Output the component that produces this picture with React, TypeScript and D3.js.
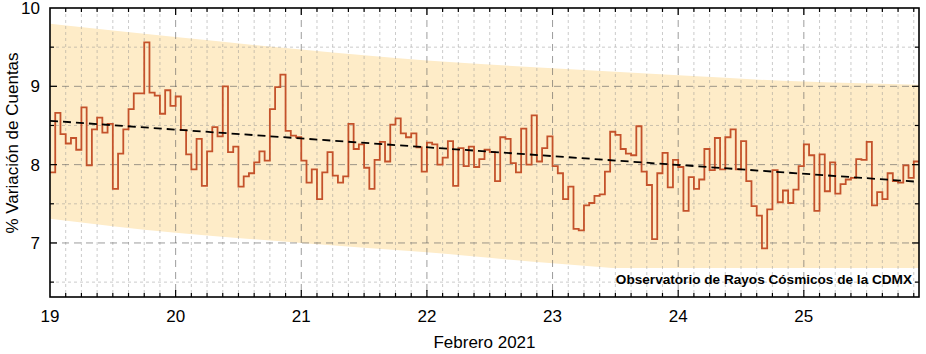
import React, { useRef, useEffect } from 'react';
import * as d3 from 'd3';

// hourly values, one array per day (Feb 2021)
const day19 = [7.90, 8.66, 8.39, 8.27, 8.34, 8.19, 8.73, 7.99, 8.45, 8.60, 8.41, 8.52, 7.69, 8.14, 8.45, 8.71, 8.91, 8.91, 9.56, 8.92, 8.88, 8.65, 8.95, 8.75];
const day20 = [8.87, 8.44, 8.13, 7.94, 8.33, 7.73, 8.17, 8.48, 8.36, 9.00, 8.16, 8.23, 7.72, 7.85, 7.89, 8.03, 8.17, 8.05, 8.71, 8.99, 9.15, 8.43, 8.37, 8.35];
const day21 = [8.05, 7.77, 7.94, 7.56, 7.90, 8.16, 7.86, 7.77, 7.85, 8.52, 8.20, 8.26, 7.96, 7.69, 8.06, 8.29, 8.04, 8.51, 8.59, 8.40, 8.35, 8.40, 8.22, 7.91];
const day22 = [8.28, 8.26, 8.00, 8.09, 8.30, 7.73, 8.21, 7.98, 8.23, 7.97, 8.07, 8.19, 8.16, 7.79, 8.35, 8.33, 8.02, 7.90, 8.46, 8.00, 8.63, 8.04, 8.21, 8.36];
const day23 = [7.98, 7.89, 7.56, 7.72, 7.18, 7.16, 7.48, 7.51, 7.60, 7.62, 7.91, 8.42, 8.38, 8.20, 8.14, 8.12, 8.49, 7.91, 7.74, 7.05, 7.89, 8.15, 7.71, 8.06];
const day24 = [7.97, 7.41, 7.84, 7.69, 7.81, 8.20, 7.93, 8.34, 7.94, 8.35, 8.45, 7.94, 8.30, 7.79, 7.47, 7.35, 6.93, 7.43, 7.93, 7.52, 7.67, 7.51, 7.68, 7.98];
const day25 = [8.26, 8.12, 7.41, 8.13, 7.66, 8.03, 7.63, 7.75, 7.81, 7.83, 8.07, 8.06, 8.29, 7.48, 7.65, 7.56, 7.89, 7.79, 7.77, 7.99, 7.83, 8.04];

// shaded band edges, read once per day
const bandDays = [19, 20, 21, 22, 23, 24, 25, 25 + 22 / 24];
const bandUpper = [9.80, 9.63, 9.47, 9.33, 9.23, 9.14, 9.06, 9.02];
const bandLower = [7.31, 7.13, 7.00, 6.88, 6.74, 6.62, 6.52, 6.45];

// linear trend
const trendDays = [19, 25 + 22 / 24];
const trendValues = [8.56, 7.78];

const dayTicks = [19, 20, 21, 22, 23, 24, 25];
const yTicks = [7, 8, 9, 10];
const yMinorTicks = [6.5, 7.5, 8.5, 9.5];

const FONT = 'Liberation Sans, Arial, sans-serif';

function Chart() {
  const svgRef = useRef(null);

  useEffect(() => {
    const svg = d3.select(svgRef.current);
    svg.selectAll('*').remove();

    const width = 926;
    const height = 354;
    const margin = { top: 8, right: 7, bottom: 57, left: 50 };
    const x0 = margin.left, x1 = width - margin.right;
    const y0 = margin.top, y1 = height - margin.bottom;

    const values = [...day19, ...day20, ...day21, ...day22, ...day23, ...day24, ...day25];
    const points = values.map((v, i) => ({ t: 19 + i / 24, v }));
    points.push({ t: 19 + values.length / 24, v: values[values.length - 1] });

    const xScale = d3.scaleLinear().domain([19, 19 + values.length / 24]).range([x0, x1]);
    const yScale = d3.scaleLinear().domain([6.31, 10]).range([y1, y0]);

    const xMinor = d3.range(19, 19 + values.length / 24 + 1e-6, 1 / 8).filter(t => Math.abs(t - Math.round(t)) > 1e-6);

    svg.append('defs').append('clipPath').attr('id', 'plotclip')
      .append('rect').attr('x', x0).attr('y', y0).attr('width', x1 - x0).attr('height', y1 - y0);

    const plot = svg.append('g').attr('clip-path', 'url(#plotclip)');

    // band
    const band = d3.area()
      .x((d, i) => xScale(bandDays[i]))
      .y0((d, i) => yScale(bandLower[i]))
      .y1((d, i) => yScale(bandUpper[i]))
      .curve(d3.curveMonotoneX);
    plot.append('path').datum(bandDays).attr('fill', '#feecc8').attr('d', band);

    // label box
    plot.append('rect')
      .attr('x', 610).attr('y', 268).attr('width', x1 - 610).attr('height', 22)
      .attr('fill', '#fff');

    // minor grid
    plot.selectAll('.xminor').data(xMinor).enter().append('line')
      .attr('x1', d => xScale(d)).attr('x2', d => xScale(d))
      .attr('y1', y0).attr('y2', y1)
      .attr('stroke', 'rgba(140,140,140,0.45)').attr('stroke-width', 1).attr('stroke-dasharray', '3,3');
    plot.selectAll('.yminor').data(yMinorTicks).enter().append('line')
      .attr('x1', x0).attr('x2', x1)
      .attr('y1', d => yScale(d)).attr('y2', d => yScale(d))
      .attr('stroke', 'rgba(140,140,140,0.45)').attr('stroke-width', 1).attr('stroke-dasharray', '3,3');

    // major grid
    plot.selectAll('.xmajor').data(dayTicks.slice(1)).enter().append('line')
      .attr('x1', d => xScale(d)).attr('x2', d => xScale(d))
      .attr('y1', y0).attr('y2', y1)
      .attr('stroke', 'rgba(90,90,90,0.6)').attr('stroke-width', 1).attr('stroke-dasharray', '7,5');
    plot.selectAll('.ymajor').data(yTicks.slice(0, 3)).enter().append('line')
      .attr('x1', x0).attr('x2', x1)
      .attr('y1', d => yScale(d)).attr('y2', d => yScale(d))
      .attr('stroke', 'rgba(90,90,90,0.6)').attr('stroke-width', 1).attr('stroke-dasharray', '7,5');

    // data steps
    const step = d3.line()
      .x(d => xScale(d.t))
      .y(d => yScale(d.v))
      .curve(d3.curveStepAfter);
    plot.append('path').datum(points)
      .attr('fill', 'none')
      .attr('stroke', '#c4522b')
      .attr('stroke-width', 1.8)
      .attr('d', step);

    // trend
    const trend = d3.line()
      .x((d, i) => xScale(trendDays[i]))
      .y((d, i) => yScale(trendValues[i]));
    plot.append('path').datum(trendDays)
      .attr('fill', 'none')
      .attr('stroke', '#000')
      .attr('stroke-width', 1.8)
      .attr('stroke-dasharray', '8,5')
      .attr('d', trend);

    // ticks (inward, all four sides)
    const ticks = svg.append('g').attr('stroke', '#000').attr('stroke-width', 1.2);
    dayTicks.slice(1).forEach(t => {
      ticks.append('line').attr('x1', xScale(t)).attr('x2', xScale(t)).attr('y1', y1).attr('y2', y1 - 7);
      ticks.append('line').attr('x1', xScale(t)).attr('x2', xScale(t)).attr('y1', y0).attr('y2', y0 + 7);
    });
    xMinor.forEach(t => {
      ticks.append('line').attr('x1', xScale(t)).attr('x2', xScale(t)).attr('y1', y1).attr('y2', y1 - 4);
      ticks.append('line').attr('x1', xScale(t)).attr('x2', xScale(t)).attr('y1', y0).attr('y2', y0 + 4);
    });
    yTicks.slice(0, 3).forEach(v => {
      ticks.append('line').attr('x1', x0).attr('x2', x0 + 7).attr('y1', yScale(v)).attr('y2', yScale(v));
      ticks.append('line').attr('x1', x1).attr('x2', x1 - 7).attr('y1', yScale(v)).attr('y2', yScale(v));
    });
    yMinorTicks.forEach(v => {
      ticks.append('line').attr('x1', x0).attr('x2', x0 + 4).attr('y1', yScale(v)).attr('y2', yScale(v));
      ticks.append('line').attr('x1', x1).attr('x2', x1 - 4).attr('y1', yScale(v)).attr('y2', yScale(v));
    });

    // frame
    svg.append('rect')
      .attr('x', x0).attr('y', y0).attr('width', x1 - x0).attr('height', y1 - y0)
      .attr('fill', 'none').attr('stroke', '#000').attr('stroke-width', 1.6);

    // tick labels
    svg.selectAll('.xlab').data(dayTicks).enter().append('text')
      .attr('x', d => xScale(d)).attr('y', 322)
      .attr('text-anchor', 'middle')
      .style('font-family', FONT).style('font-size', '17px').attr('fill', '#000')
      .text(d => d);
    svg.selectAll('.ylab').data(yTicks).enter().append('text')
      .attr('x', x0 - 10).attr('y', d => yScale(d) + 6)
      .attr('text-anchor', 'end')
      .style('font-family', FONT).style('font-size', '17px').attr('fill', '#000')
      .text(d => d);

    // axis titles
    svg.append('text')
      .attr('x', (x0 + x1) / 2).attr('y', 348)
      .attr('text-anchor', 'middle')
      .style('font-family', FONT).style('font-size', '17px')
      .text('Febrero 2021');
    svg.append('text')
      .attr('transform', 'translate(18,143) rotate(-90)')
      .attr('text-anchor', 'middle')
      .style('font-family', FONT).style('font-size', '17px')
      .text('% Variación de Cuentas');

    svg.append('text')
      .attr('x', 912).attr('y', 284)
      .attr('text-anchor', 'end')
      .style('font-family', FONT).style('font-size', '13.6px').style('font-weight', 'bold')
      .text('Observatorio de Rayos Cósmicos de la CDMX');
  }, []);

  return <svg ref={svgRef} width={926} height={354} style={{ position: 'absolute', left: 0, top: 0, background: '#fff' }} />;
}

export default function App() {
  return <Chart />;
}
